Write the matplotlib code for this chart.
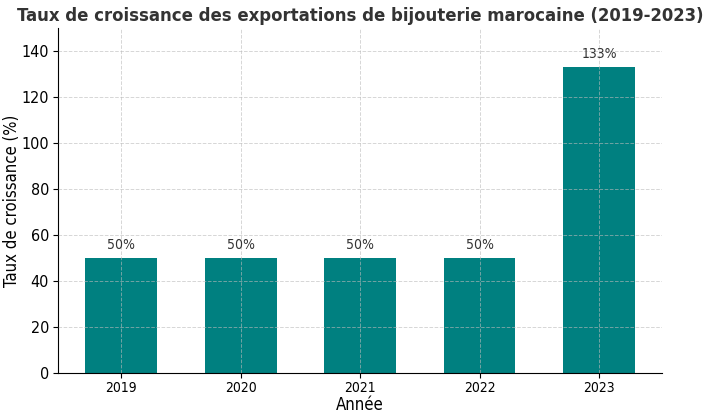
import matplotlib
matplotlib.use("Agg")
import matplotlib.pyplot as plt

plt.rcParams["font.family"] = "DejaVu Sans"
plt.rcParams["font.stretch"] = "condensed"

years = ["2019", "2020", "2021", "2022", "2023"]
growth = [50, 50, 50, 50, 133]
labels = ["50%", "50%", "50%", "50%", "133%"]

fig = plt.figure(figsize=(7.11, 4.15), dpi=100)
ax = fig.add_axes([0.0816, 0.101, 0.85, 0.832])

bars = ax.bar(years, growth, width=0.6, color="#008080", zorder=1)
for b, lab in zip(bars, labels):
    ax.text(b.get_x() + b.get_width() / 2, b.get_height() + 2.5, lab,
            ha="center", va="bottom", fontsize=10, color="#333333")

ax.set_ylim(0, 150)
ax.grid(True, linestyle="--", color="#bbbbbb", linewidth=0.7, alpha=0.6, zorder=3)
ax.set_axisbelow(False)
for s in ["top", "right"]:
    ax.spines[s].set_visible(False)
ax.tick_params(axis="y", labelsize=11.5, pad=3)
ax.tick_params(axis="x", labelsize=10, pad=2)
ax.set_xlabel("Année", fontsize=12, labelpad=1)
ax.set_ylabel("Taux de croissance (%)", fontsize=12)
ax.yaxis.set_label_coords(-0.061, 0.5)
ax.set_title("Taux de croissance des exportations de bijouterie marocaine (2019-2023)",
             fontsize=13.2, fontweight="bold", color="#333333", pad=5)

fig.savefig("out.png", dpi=100)
